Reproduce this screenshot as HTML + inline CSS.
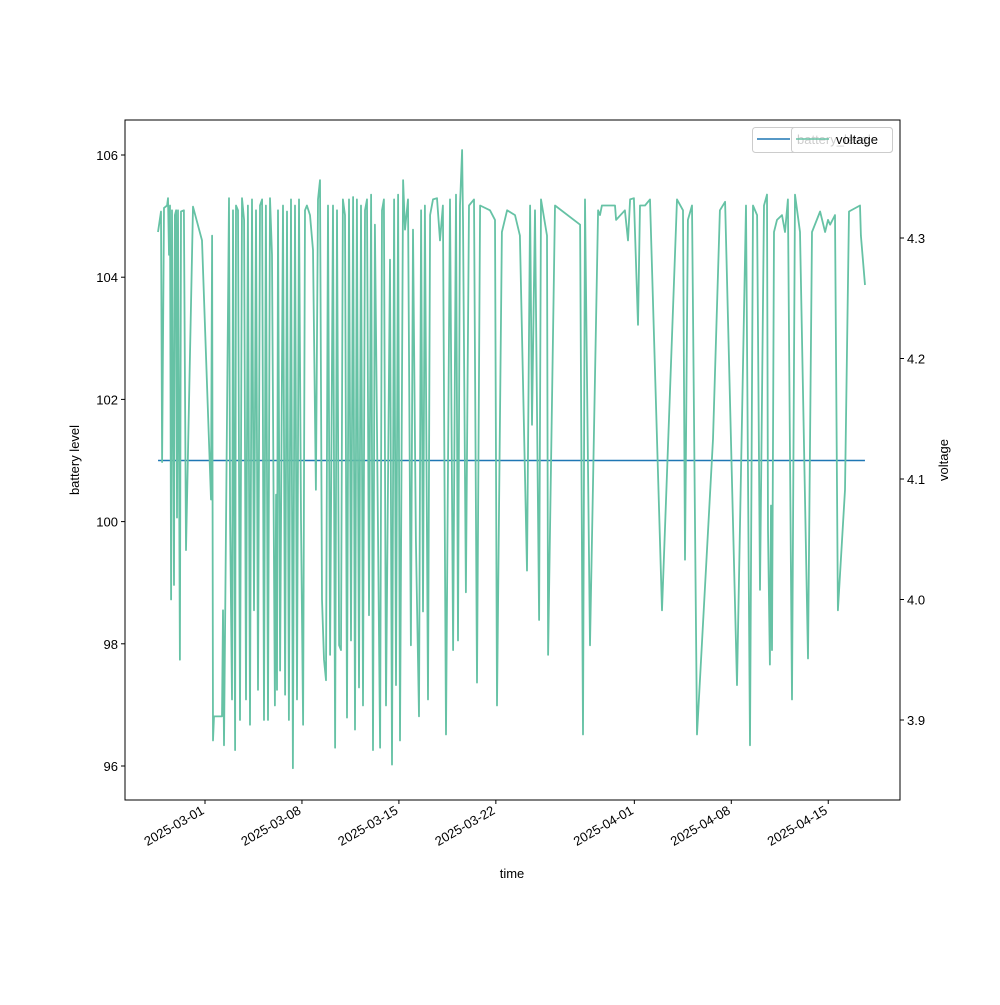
<!DOCTYPE html>
<html><head><meta charset="utf-8"><style>
body{margin:0;background:#fff;}
svg text{font-family:"Liberation Sans","DejaVu Sans",sans-serif;font-size:13px;fill:#000;}
</style></head><body>
<svg id="chart" width="1000" height="1000" viewBox="0 0 1000 1000" xmlns="http://www.w3.org/2000/svg">
<rect width="1000" height="1000" fill="#fff"/>
<g id="marks"></g>
<g id="axes"></g>
</svg>
<script>
// days since 2025-03-01
const vDays=[-3.39,-3.18,-3.10,-2.96,-2.74,-2.67,-2.60,-2.53,-2.45,-2.38,-2.24,-2.17,-2.09,-2.02,-1.95,-1.81,-1.73,-1.52,-1.37,-0.87,-0.22,0.43,0.51,0.58,0.65,1.23,1.30,1.37,1.73,1.81,1.95,2.02,2.17,2.24,2.38,2.53,2.67,2.82,2.96,3.10,3.25,3.39,3.54,3.68,3.83,3.97,4.12,4.26,4.40,4.55,4.69,4.84,5.05,5.13,5.20,5.27,5.42,5.63,5.78,5.92,6.06,6.21,6.35,6.50,6.64,6.79,6.93,7.08,7.22,7.36,7.58,7.80,8.01,8.16,8.30,8.45,8.59,8.74,8.88,9.03,9.24,9.39,9.53,9.68,9.82,9.96,10.11,10.25,10.40,10.54,10.69,10.83,10.97,11.12,11.26,11.41,11.55,11.70,11.84,11.99,12.13,12.27,12.42,12.64,12.78,12.92,13.07,13.36,13.50,13.65,13.79,13.94,14.08,14.30,14.44,14.66,14.87,15.02,15.23,15.45,15.60,15.74,15.88,16.10,16.25,16.46,16.75,16.97,17.18,17.40,17.69,17.91,18.12,18.27,18.41,18.56,18.63,18.84,19.06,19.42,19.64,19.86,20.58,20.94,21.08,21.44,21.81,22.38,22.74,23.25,23.47,23.61,23.83,24.12,24.26,24.69,24.77,25.27,27.08,27.29,27.44,27.80,28.38,28.52,28.66,29.60,29.68,30.32,30.54,30.69,30.97,31.26,31.41,31.77,32.13,33.00,34.08,34.51,34.66,34.87,35.16,35.52,36.68,37.18,37.55,38.41,39.06,39.35,39.57,39.86,40.07,40.36,40.58,40.65,40.79,40.87,40.94,41.08,41.30,41.66,41.88,42.09,42.38,42.60,42.96,43.54,43.83,44.41,44.77,44.98,45.13,45.49,45.70,46.21,46.50,47.29,47.36,47.65];
const voltage=[4.305,4.322,4.114,4.325,4.327,4.333,4.286,4.327,4.000,4.323,4.012,4.319,4.323,4.068,4.323,3.950,4.322,4.323,4.041,4.326,4.298,4.083,4.302,3.883,3.903,3.903,3.991,3.879,4.333,4.066,3.917,4.323,3.875,4.327,4.323,3.900,4.333,4.315,3.917,4.327,3.896,4.332,3.991,4.323,3.925,4.327,4.332,3.900,4.327,3.900,4.333,4.286,3.912,4.087,3.925,4.323,3.941,4.327,3.921,4.322,3.900,4.332,3.860,4.327,3.917,4.332,4.066,3.896,4.323,4.327,4.319,4.290,4.091,4.332,4.348,4.000,3.950,3.933,4.327,3.954,4.327,3.877,4.323,3.962,3.958,4.332,4.319,3.902,4.332,3.966,4.334,3.892,4.332,3.927,4.327,3.912,4.323,4.332,3.987,4.336,3.875,4.311,4.141,3.877,4.323,4.332,3.912,4.282,3.863,4.332,3.929,4.336,3.883,4.348,4.307,4.332,3.962,4.307,4.049,3.903,4.323,3.990,4.327,3.917,4.319,4.332,4.333,4.298,4.327,3.888,4.332,3.958,4.336,3.966,4.327,4.373,4.315,4.006,4.327,4.332,3.931,4.327,4.323,4.315,3.912,4.305,4.323,4.319,4.302,4.024,4.327,4.145,4.323,3.983,4.332,4.302,3.954,4.327,4.311,3.888,4.332,3.962,4.323,4.319,4.327,4.327,4.315,4.323,4.298,4.332,4.333,4.228,4.327,4.327,4.332,3.991,4.332,4.323,4.033,4.315,4.327,3.888,4.133,4.323,4.330,3.929,4.327,3.879,4.327,4.319,4.008,4.327,4.336,4.058,3.946,4.078,3.958,4.305,4.315,4.319,4.305,4.332,3.917,4.336,4.305,3.951,4.305,4.322,4.305,4.315,4.311,4.319,3.991,4.091,4.322,4.327,4.302,4.261];
const battDays=[-3.39,47.65];
const battery=[101,101];
const xTickDays=[0,7,14,21,31,38,45];
const xTickLabels=["2025-03-01","2025-03-08","2025-03-15","2025-03-22","2025-04-01","2025-04-08","2025-04-15"];
const yLeftTicks=[96,98,100,102,104,106];
const yRightTicks=[3.9,4.0,4.1,4.2,4.3];

const L=125,R=900,T=120,B=800;
const xS=d=>205+d*13.85;
const yL=v=>155+(106-v)*61.1;
const yR=v=>238+(4.3-v)*1205;
const NS="http://www.w3.org/2000/svg";
const marks=document.getElementById('marks');
const axes=document.getElementById('axes');
function mk(tag,attrs,parent){const e=document.createElementNS(NS,tag);for(const k in attrs)e.setAttribute(k,attrs[k]);parent.appendChild(e);return e;}

const bp=mk('polyline',{points:battDays.map((d,i)=>xS(d)+','+yL(battery[i])).join(' '),fill:'none',stroke:'#1f77b4','stroke-width':1.5},marks);


const vp=mk('polyline',{points:vDays.map((d,i)=>xS(d).toFixed(1)+','+yR(voltage[i]).toFixed(1)).join(' '),fill:'none',stroke:'#66c2a5','stroke-width':1.8,'stroke-linejoin':'round'},marks);



const fr=mk('rect',{x:L,y:T,width:R-L,height:B-T,fill:'none',stroke:'#000','stroke-width':1},axes);



xTickDays.forEach((d,i)=>{
  const x=xS(d);
  mk('line',{x1:x,x2:x,y1:B,y2:B+4,stroke:'#000'},axes);
  const t=mk('text',{x:x,y:B+13,'text-anchor':'end',transform:`rotate(-30 ${x} ${B+13})`},axes);
  
  
  t.textContent=xTickLabels[i];
});
yLeftTicks.forEach(v=>{
  const y=yL(v);
  mk('line',{x1:L-4,x2:L,y1:y,y2:y,stroke:'#000'},axes);
  const t=mk('text',{x:L-7,y:y+5,'text-anchor':'end'},axes);
  
  
  t.textContent=v;
});
yRightTicks.forEach(v=>{
  const y=yR(v);
  mk('line',{x1:R,x2:R+4,y1:y,y2:y,stroke:'#000'},axes);
  const t=mk('text',{x:R+7,y:y+5},axes);
  
  
  t.textContent=v.toFixed(1);
});
</script>
<svg style="position:absolute;left:0;top:0" width="1000" height="1000" xmlns="http://www.w3.org/2000/svg">
<text x="512" y="878" text-anchor="middle" style="font-family:'Liberation Sans',sans-serif;font-size:13px">time</text>
<text x="79" y="460" text-anchor="middle" transform="rotate(-90 79 460)" style="font-family:'Liberation Sans',sans-serif;font-size:13px">battery level</text>
<text x="948" y="460" text-anchor="middle" transform="rotate(-90 948 460)" style="font-family:'Liberation Sans',sans-serif;font-size:13px">voltage</text>
<g>
<rect x="752.5" y="127.5" width="140" height="25" rx="3" fill="#fff" fill-opacity="0.8" stroke="#ccc"/>
<line x1="757" x2="790" y1="139" y2="139" stroke="#1f77b4" stroke-width="1.5"/>
<text x="797" y="144" style="font-family:'Liberation Sans',sans-serif;font-size:13px">battery_level</text>
</g>
<g>
<rect x="791.5" y="127.5" width="101" height="25" rx="3" fill="#fff" fill-opacity="0.8" stroke="#ccc"/>
<line x1="796" x2="829" y1="139" y2="139" stroke="#66c2a5" stroke-width="1.5"/>
<text x="836" y="144" style="font-family:'Liberation Sans',sans-serif;font-size:13px">voltage</text>
</g>
</svg>
</body></html>
